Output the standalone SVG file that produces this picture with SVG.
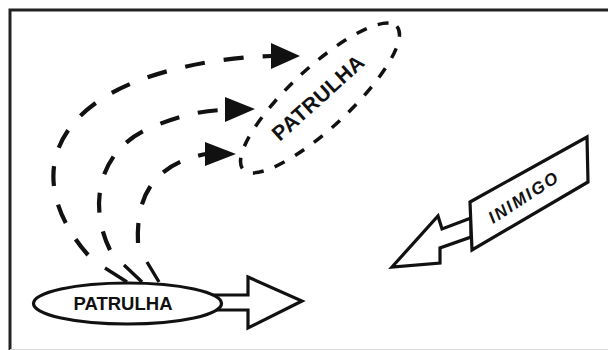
<svg xmlns="http://www.w3.org/2000/svg" width="608" height="350" viewBox="0 0 608 350">
<style>
.ln{fill:none;stroke:#111;stroke-width:3.4;stroke-linejoin:round}
.sh{fill:#fff;stroke:#111;stroke-width:3.2;stroke-linejoin:miter}
.arc{fill:none;stroke:#111;stroke-width:4.2;stroke-dasharray:20 19}
.hd{fill:#111;stroke:none}
.lbl{font-family:"Liberation Sans",Arial,sans-serif;font-weight:bold;fill:#111}
</style>
<rect width="608" height="350" fill="#fff"/>
<g id="frame">
<path d="M10,350 V10 H608" fill="none" stroke="#222" stroke-width="3"/>
<path d="M10,349.5 H608" fill="none" stroke="#ddd" stroke-width="1"/>
</g>
<g id="connectors">
<path class="arc" d="M88,255 C40,200 40,140 100,100 C145,70 220,57 272,56"/>
<polygon class="hd" points="271,43 300,56 271,69"/>
<path class="arc" d="M110,250 C88,205 98,150 150,128 C179,115 205,110 226,110"/>
<polygon class="hd" points="225,97 255,109 225,122"/>
<path class="arc" d="M138,243 C136,200 150,165 206,154"/>
<polygon class="hd" points="205,142 236,154 205,166"/>
<path class="ln" d="M105,268 L127,282 M124,265 L142,282 M147,262 L159,282"/>
</g>
<g id="patrulha-bottom">
<polygon class="sh" points="200,295 248,295 248,277 302,301 248,328 248,310 200,310"/>
<ellipse class="sh" cx="127.5" cy="303.5" rx="94" ry="20.5"/>
<text class="lbl" x="123" y="309.5" font-size="18.5" text-anchor="middle">PATRULHA</text>
</g>
<g id="patrulha-top">
<ellipse cx="320" cy="98" rx="105" ry="30" transform="rotate(-43 320 98)" fill="none" stroke="#111" stroke-width="3.5" stroke-dasharray="11 12"/>
<text class="lbl" x="323" y="103" font-size="21" letter-spacing="0.5" text-anchor="middle" transform="rotate(-42 323 103)">PATRULHA</text>
</g>
<g id="inimigo">
<polygon class="sh" points="471,218 442,229 438,216 392,267 440,263 440,248 471,237"/>
<polygon class="sh" points="470,202 587,137 588,182 472,250"/>
<text class="lbl" x="527" y="202" font-size="17" font-style="italic" letter-spacing="2" text-anchor="middle" transform="rotate(-33 527 202)">INIMIGO</text>
</g>
</svg>
